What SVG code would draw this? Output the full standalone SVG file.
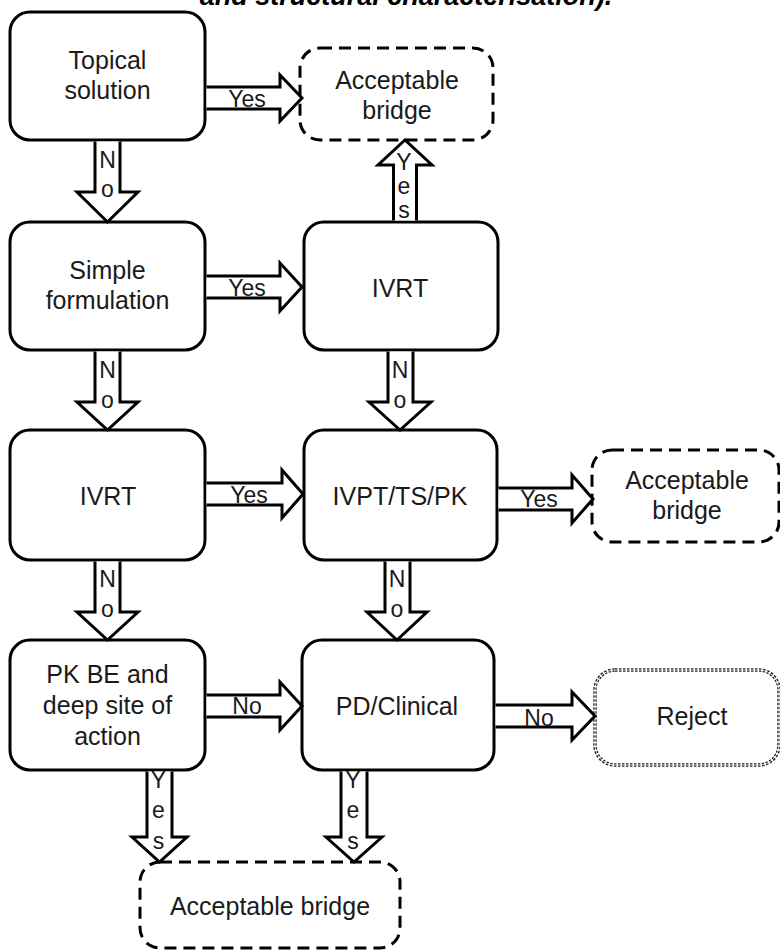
<svg xmlns="http://www.w3.org/2000/svg" width="780" height="952" viewBox="0 0 780 952">
<defs>
<style>
.box{fill:#fff;stroke:#000;stroke-width:3}
.dash{fill:#fff;stroke:#000;stroke-width:3;stroke-dasharray:12 7}
.dotA{fill:#fff;stroke:#222;stroke-width:3.5;stroke-dasharray:2.5 1.5}
.dotB{fill:none;stroke:#fff;stroke-width:0.9}
.t{font-family:"Liberation Sans",Arial,sans-serif;font-size:25px;fill:#1a1a1a;text-anchor:middle}
.lbl{font-family:"Liberation Sans",Arial,sans-serif;font-size:23px;fill:#1a1a1a;text-anchor:middle}
.arr{fill:#fff;stroke:#000;stroke-width:3;stroke-linejoin:miter}
.title{font-family:"Liberation Sans",Arial,sans-serif;font-size:27px;font-weight:bold;font-style:italic;fill:#000;text-anchor:middle}
</style>
</defs>
<rect width="780" height="952" fill="#fff"/>
<text class="title" x="406" y="5">and structural characterisation).</text>

<g id="n-topical"><rect class="box" x="10" y="12" width="195" height="128" rx="20"/><text class="t" x="107.5" y="69">Topical</text><text class="t" x="107.5" y="99">solution</text></g>
<g id="n-acc1"><rect class="dash" x="300" y="48" width="193" height="92" rx="20"/><text class="t" x="397" y="89">Acceptable</text><text class="t" x="397" y="119">bridge</text></g>
<g id="n-simple"><rect class="box" x="10" y="222" width="195" height="128" rx="20"/><text class="t" x="107.5" y="279">Simple</text><text class="t" x="107.5" y="309">formulation</text></g>
<g id="n-ivrt2"><rect class="box" x="304" y="222" width="194" height="128" rx="20"/><text class="t" x="400" y="297">IVRT</text></g>
<g id="n-ivrt1"><rect class="box" x="10" y="430" width="195" height="130" rx="20"/><text class="t" x="108" y="505">IVRT</text></g>
<g id="n-ivpt"><rect class="box" x="304" y="430" width="193" height="130" rx="20"/><text class="t" x="400" y="505">IVPT/TS/PK</text></g>
<g id="n-acc2"><rect class="dash" x="592" y="450" width="187" height="92" rx="20"/><text class="t" x="687" y="489">Acceptable</text><text class="t" x="687" y="519">bridge</text></g>
<g id="n-pkbe"><rect class="box" x="10" y="640" width="195" height="130" rx="20"/><text class="t" x="107.5" y="683">PK BE and</text><text class="t" x="107.5" y="714">deep site of</text><text class="t" x="107.5" y="745">action</text></g>
<g id="n-pd"><rect class="box" x="302" y="640" width="192" height="130" rx="20"/><text class="t" x="397" y="715">PD/Clinical</text></g>
<g id="n-reject"><rect class="dotA" x="595" y="670" width="184" height="95" rx="20"/><rect class="dotB" x="595" y="670" width="184" height="95" rx="20"/><text class="t" x="692" y="725">Reject</text></g>
<g id="n-acc3"><rect class="dash" x="140" y="862" width="260" height="86" rx="20"/><text class="t" x="270" y="915">Acceptable bridge</text></g>

<g id="connectors">
<path class="arr" d="M206.5,87 H280 V75 L302,98 L280,121 V109 H206.5"/>
<text class="lbl" x="247" y="107">Yes</text>
<path class="arr" d="M206.5,276 H280 V263 L302,287 L280,311 V298 H206.5"/>
<text class="lbl" x="247" y="296">Yes</text>
<path class="arr" d="M206.5,483 H282 V470 L303,494 L282,518 V505 H206.5"/>
<text class="lbl" x="249" y="503">Yes</text>
<path class="arr" d="M498.5,488 H572 V475 L593,499 L572,523 V510 H498.5"/>
<text class="lbl" x="539" y="507">Yes</text>
<path class="arr" d="M206.5,695 H280 V682 L302,706 L280,730 V717 H206.5"/>
<text class="lbl" x="247" y="714">No</text>
<path class="arr" d="M495.5,705 H572 V692 L595,716 L572,740 V727 H495.5"/>
<text class="lbl" x="539" y="726">No</text>

<path class="arr" d="M95,141.5 V192 H77 L107.5,222 L138,192 H120 V141.5"/>
<text class="lbl" x="107.5" y="168">N</text><text class="lbl" x="107.5" y="197">o</text>
<path class="arr" d="M95,351.5 V402 H77 L107.5,430 L138,402 H120 V351.5"/>
<text class="lbl" x="107.5" y="378">N</text><text class="lbl" x="107.5" y="408">o</text>
<path class="arr" d="M95,561.5 V612 H77 L107.5,640 L138,612 H120 V561.5"/>
<text class="lbl" x="107.5" y="587">N</text><text class="lbl" x="107.5" y="617">o</text>
<path class="arr" d="M388,351.5 V402 H369 L400,430 L431,402 H413 V351.5"/>
<text class="lbl" x="400" y="378">N</text><text class="lbl" x="400" y="408">o</text>
<path class="arr" d="M385,561.5 V612 H367 L397,640 L427,612 H410 V561.5"/>
<text class="lbl" x="397" y="587">N</text><text class="lbl" x="397" y="617">o</text>

<path class="arr" d="M393.5,220.5 V165 H378 L405,140 L432,165 H416.5 V220.5"/>
<text class="lbl" x="404" y="170">Y</text><text class="lbl" x="404" y="194">e</text><text class="lbl" x="404" y="218">s</text>

<path class="arr" d="M147,771.5 V837 H132 L159.5,862 L187,837 H172 V771.5"/>
<text class="lbl" x="158.5" y="788">Y</text><text class="lbl" x="158.5" y="818">e</text><text class="lbl" x="158.5" y="849">s</text>
<path class="arr" d="M341,771.5 V837 H326 L354,862 L382,837 H367 V771.5"/>
<text class="lbl" x="353" y="788">Y</text><text class="lbl" x="353" y="818">e</text><text class="lbl" x="353" y="849">s</text>
</g>
</svg>
